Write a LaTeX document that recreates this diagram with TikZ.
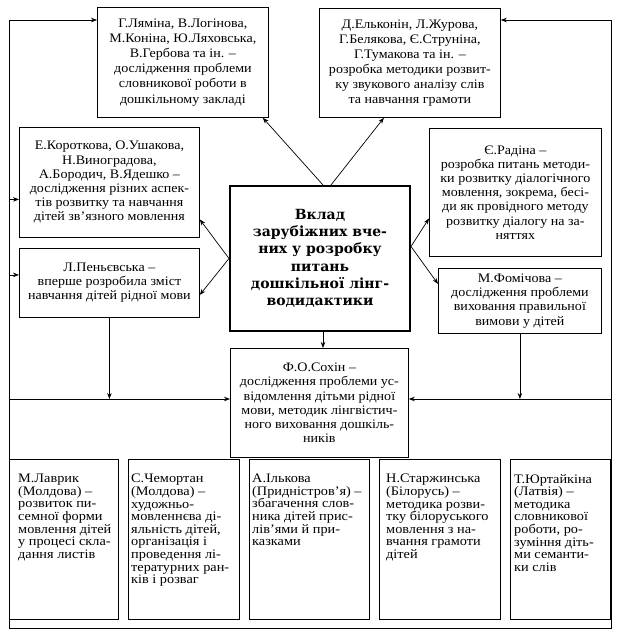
\documentclass[tikz,border=0pt]{standalone}
\usepackage{fontspec}
\setmainfont{Liberation Serif}[FakeStretch=1.08]
\newfontfamily\bottomfont{Liberation Serif}[FakeStretch=1.1]
\newfontfamily\titlefont{DejaVu Serif}
\usetikzlibrary{arrows.meta}
\tikzset{
  box/.style={draw, line width=0.8pt, inner sep=0pt, anchor=north west, align=center,
    font=\fontsize{13}{14.2}\selectfont},
  topbox/.style={box, font=\fontsize{13}{15.1}\selectfont},
  mainbox/.style={box, line width=2pt, font=\titlefont\bfseries\fontsize{14}{17.3}\selectfont},
  btext/.style={inner sep=0pt, anchor=north west, align=left,
    font=\bottomfont\fontsize{13}{12.6}\selectfont},
  frame/.style={line width=0.8pt},
  arr/.style={line width=0.7pt, -{Stealth[length=6pt,width=4.5pt]}}
}
\begin{document}
\begin{tikzpicture}[x=1pt,y=-1pt]
\useasboundingbox[fill=white] (0,0) rectangle (620,637);

\node[topbox, minimum width=171, minimum height=110] (tl) at (97,7)
  {Г.Ляміна, В.Логінова,\\М.Коніна, Ю.Ляховська,\\В.Гербова та ін. –\\дослідження проблеми\\словникової роботи в\\дошкільному закладі};
\node[topbox, minimum width=181, minimum height=109] (tr) at (319,8)
  {Д.Ельконін, Л.Журова,\\Г.Белякова, Є.Струніна,\\Г.Тумакова та ін. –\\розробка методики розвит-\\ку звукового аналізу слів\\та навчання грамоти};
\node[box, minimum width=180, minimum height=110] (kor) at (19,127)
  {Е.Короткова, О.Ушакова,\\Н.Виноградова,\\А.Бородич, В.Ядешко –\\дослідження різних аспек-\\тів розвитку та навчання\\дітей зв’язного мовлення};
\node[box, minimum width=180, minimum height=69] (pen) at (19,248)
  {Л.Пеньєвська –\\вперше розробила зміст\\навчання дітей рідної мови};
\node[mainbox, minimum width=180, minimum height=145] (c) at (229,185)
  {Вклад\\зарубіжних вче-\\них у розробку\\питань\\дошкільної лінг-\\водидактики};
\node[box, minimum width=172, minimum height=128] (rad) at (429,128)
  {Є.Радіна –\\розробка питань методи-\\ки розвитку діалогічного\\мовлення, зокрема, бесі-\\ди як провідного методу\\розвитку діалогу на за-\\няттях};
\node[box, minimum width=163, minimum height=65] (fom) at (438,268)
  {М.Фомічова –\\дослідження проблеми\\виховання правильної\\вимови у дітей};
\node[box, minimum width=178, minimum height=109] (sokh) at (230,348)
  {Ф.О.Сохін –\\дослідження проблеми ус-\\відомлення дітьми рідної\\мови, методик лінгвістич-\\ного виховання дошкіль-\\ників};

\node[box, minimum width=109, minimum height=160] (b1) at (9,459) {};
\node[box, minimum width=111, minimum height=160] (b2) at (128,459) {};
\node[box, minimum width=120, minimum height=160] (b3) at (249,459) {};
\node[box, minimum width=121, minimum height=160] (b4) at (379,459) {};
\node[box, minimum width=100, minimum height=160] (b5) at (510,459) {};

\node[btext] (b1t) at ([shift={(9pt,-15pt)}]b1.north west)
  {М.Лаврик\\(Молдова) –\\розвиток пи-\\семної форми\\мовлення дітей\\у процесі скла-\\дання листів};
\node[btext] (b2t) at ([shift={(3pt,-15pt)}]b2.north west)
  {С.Чемортан\\(Молдова) –\\художньо-\\мовленнєва ді-\\яльність дітей,\\організація і\\проведення лі-\\тературних ран-\\ків і розваг};
\node[btext] (b3t) at ([shift={(3pt,-15pt)}]b3.north west)
  {А.Ількова\\(Придністров’я) –\\збагачення слов-\\ника дітей прис-\\лів’ями й при-\\казками};
\node[btext] (b4t) at ([shift={(7pt,-15pt)}]b4.north west)
  {Н.Старжинська\\(Білорусь) –\\методика розви-\\тку білоруського\\мовлення з на-\\вчання грамоти\\дітей};
\node[btext] (b5t) at ([shift={(4pt,-15pt)}]b5.north west)
  {Т.Юртайкіна\\(Латвія) –\\методика\\словникової\\роботи, ро-\\зуміння діть-\\ми семанти-\\ки слів};

% frame
\coordinate (ftl) at (9,20);
\coordinate (ftr) at (611,20);
\coordinate (fbl) at (9,628);
\coordinate (fbr) at (611,628);
\coordinate (lj) at (9,399);
\coordinate (rj) at (611,399);
\draw[frame] (ftl) -- (fbl) -- (fbr) -- (ftr);

\draw[arr] (ftl) -- (tl.west |- ftl);
\draw[arr] (ftr) -- (tr.east |- ftr);
\coordinate (korin) at ([yshift=-17pt]kor.west);
\coordinate (penin) at ([yshift=8pt]pen.west);
\draw[arr] (ftl |- korin) -- (korin);
\draw[arr] (ftl |- penin) -- (penin);
\draw[arr] (lj) -- (sokh.west |- lj);
\draw[arr] (rj) -- (sokh.east |- rj);
\draw[arr] (pen.south) -- (pen.south |- lj);
\draw[arr] (fom.south) -- (fom.south |- rj);

\draw[arr] ([xshift=3pt]c.north) -- ([xshift=-6pt]tl.south east);
\draw[arr] ([xshift=11pt]c.north) -- ([xshift=-26pt]tr.south);
\draw[arr] (c.west) -- ([yshift=-37pt]kor.east);
\draw[arr] (c.west) -- ([yshift=-12pt]pen.east);
\draw[arr] ([yshift=12pt]c.east) -- ([yshift=-26pt]rad.west);
\draw[arr] ([yshift=12pt]c.east) -- ([yshift=17pt]fom.west);
\draw[arr] ([xshift=3pt]c.south) -- ([xshift=3pt]c.south |- sokh.north);
\end{tikzpicture}
\end{document}
